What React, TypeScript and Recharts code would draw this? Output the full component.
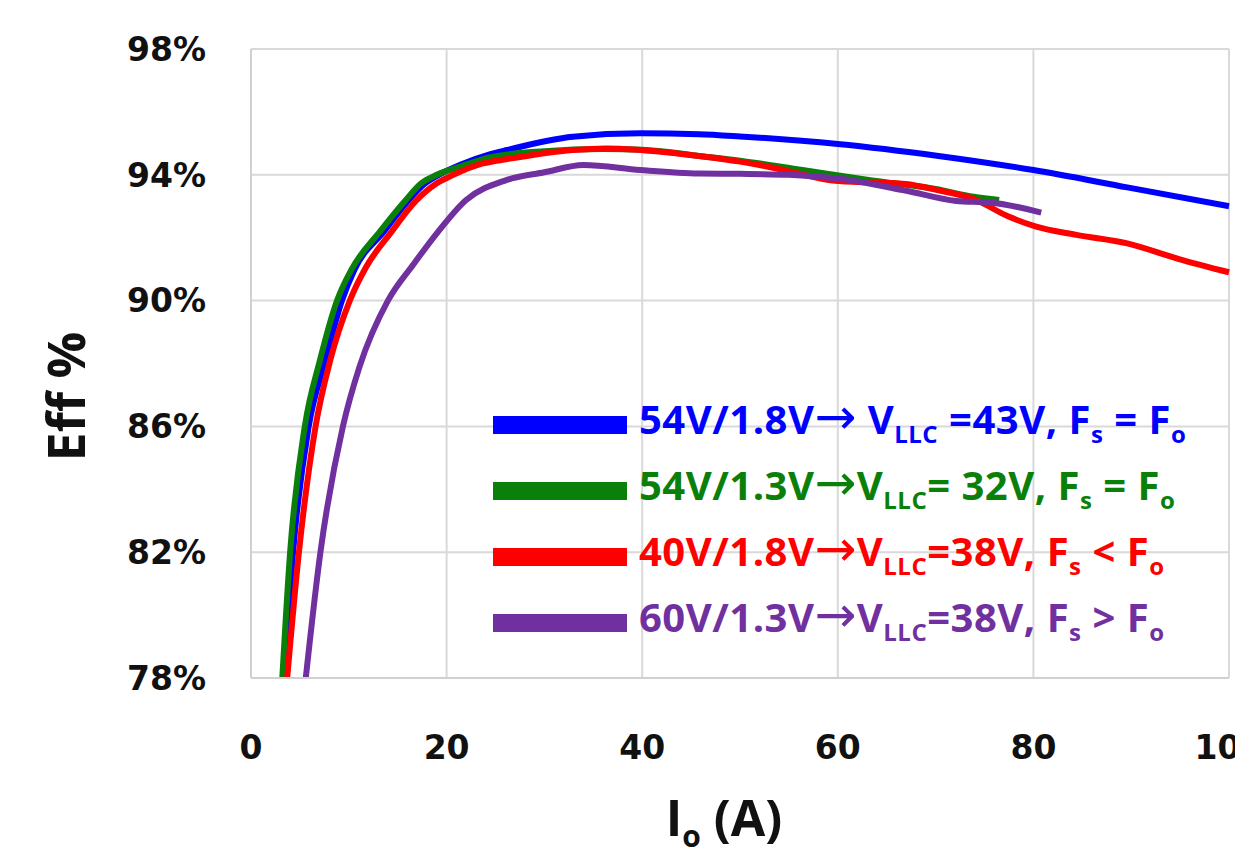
import React from 'react';
import { LineChart, Line, XAxis, YAxis, CartesianGrid, Legend, Label } from 'recharts';

// output current (A) and efficiency (%)
const blueCurrent = [3.4, 4.3, 5.9, 7.6, 9.3, 10.6, 13.6, 16.0, 17.7, 19.2, 21.4, 24.4, 26.2, 32.9, 39.8, 45.8, 50, 60, 70.3, 80, 89.6, 100];
const blueEff = [78, 82, 86, 88.1, 90, 91.0, 92.2, 93.15, 93.7, 94.0, 94.32, 94.65, 94.79, 95.21, 95.32, 95.29, 95.22, 94.98, 94.6, 94.15, 93.6, 93.0];

const greenCurrent = [3.2, 4.0, 5.5, 7.05, 8.8, 10.3, 13.2, 15.7, 17.4, 19.0, 21.4, 24.4, 30, 36, 40, 45.8, 50, 56.4, 63.5, 70, 73.9, 76.5];
const greenEff = [78, 82, 86, 88.1, 90, 91.0, 92.2, 93.15, 93.73, 94.0, 94.26, 94.55, 94.75, 94.82, 94.8, 94.6, 94.45, 94.15, 93.82, 93.55, 93.3, 93.2];

const redCurrent = [3.7, 4.9, 6.6, 8.1, 10.1, 11.7, 14.4, 16.8, 19.0, 20.7, 23.7, 26.2, 32.9, 36.3, 39.8, 45.8, 50, 53, 60.1, 66.9, 70.4, 73.9, 77.4, 80.2, 84.4, 89.6, 94.8, 100];
const redEff = [78, 82, 86, 88.1, 90, 91.03, 92.2, 93.15, 93.73, 94.0, 94.36, 94.5, 94.79, 94.84, 94.79, 94.6, 94.42, 94.25, 93.8, 93.71, 93.5, 93.23, 92.68, 92.36, 92.09, 91.82, 91.33, 90.9];

const purpleCurrent = [5.6, 7.1, 9.4, 11.1, 14.0, 16.6, 19.0, 22.0, 26.1, 30, 34, 39.8, 45.8, 50, 55, 60, 66.9, 72.1, 75.6, 80.8];
const purpleEff = [78, 82, 86, 87.9, 90, 91.15, 92.14, 93.2, 93.83, 94.08, 94.31, 94.15, 94.04, 94.03, 94.0, 93.88, 93.5, 93.17, 93.12, 92.8];

const xTicks = [0, 20, 40, 60, 80, 100];
const yTicks = [78, 82, 86, 90, 94, 98];

const seriesColors = ['#0000ff', '#0a800a', '#ff0000', '#7030a0'];
const legendSource = ['54V/1.8V', '54V/1.3V', '40V/1.8V', '60V/1.3V'];
const legendAfterArrow = [' V', 'V', 'V', 'V'];
const legendMiddle = [' =43V, F', '= 32V, F', '=38V, F', '=38V, F'];
const legendRelation = [' = F', ' = F', ' < F', ' > F'];

const toPoints = (xs: number[], ys: number[]) => xs.map((io, i) => ({ io, eff: ys[i] }));

const series = [
  toPoints(blueCurrent, blueEff),
  toPoints(greenCurrent, greenEff),
  toPoints(redCurrent, redEff),
  toPoints(purpleCurrent, purpleEff),
];

const tickStyle = { fontFamily: 'DejaVu Sans', fontWeight: 700, fontSize: 33, fill: '#111' };

const YTitle = (props: any) => {
  const { viewBox } = props;
  const x = viewBox.x + 85;
  const y = viewBox.y + viewBox.height / 2 + 33;
  return (
    <text
      x={x}
      y={y}
      transform={`rotate(-90, ${x}, ${y})`}
      textAnchor="middle"
      fontFamily="Open Sans"
      fontWeight={700}
      fontSize={52}
      fill="#111"
    >
      Eff %
    </text>
  );
};

const XTitle = (props: any) => {
  const { viewBox } = props;
  const x = viewBox.x + viewBox.width / 2 - 16;
  const y = viewBox.y + 158;
  return (
    <text x={x} y={y} textAnchor="middle" fontFamily="Open Sans" fontWeight={700} fontSize={50} fill="#111">
      <tspan>I</tspan>
      <tspan dy={11} fontSize={30}>o</tspan>
      <tspan dy={-11}> (A)</tspan>
    </text>
  );
};

const subStyle = { fontSize: '60%' };

const LegendBox = () => (
  <div style={{ fontFamily: 'Open Sans', fontWeight: 700, fontSize: 40, letterSpacing: 0.5 }}>
    {seriesColors.map((color, i) => (
      <div key={color} style={{ display: 'flex', alignItems: 'center', height: 66, color, whiteSpace: 'nowrap' }}>
        <div style={{ width: 134, height: 18, background: color, marginRight: 12 }} />
        <span style={{ lineHeight: '40px' }}>
          {legendSource[i]}
          <span style={{ fontFamily: 'DejaVu Sans', fontSize: '125%', fontWeight: 400 }}>→</span>
          {legendAfterArrow[i]}
          <sub style={subStyle}>LLC</sub>
          {legendMiddle[i]}
          <sub style={subStyle}>s</sub>
          {legendRelation[i]}
          <sub style={subStyle}>o</sub>
        </span>
      </div>
    ))}
  </div>
);

export default function App() {
  return (
    <div style={{ position: 'fixed', left: 0, top: 0, width: 1235, height: 853, overflow: 'hidden', background: '#fff' }}>
      <LineChart width={1300} height={853} margin={{ top: 49, right: 71, bottom: 0, left: 0 }}>
        <CartesianGrid stroke="#d9d9d9" strokeWidth={2} />
        <XAxis
          dataKey="io"
          type="number"
          domain={[0, 100]}
          ticks={xTicks}
          height={175}
          tickSize={0}
          tickMargin={58}
          tick={tickStyle}
          axisLine={{ stroke: '#d0d0d0', strokeWidth: 2 }}
          tickLine={false}
          allowDuplicatedCategory={false}
        >
          <Label content={<XTitle />} />
        </XAxis>
        <YAxis
          type="number"
          domain={[78, 98]}
          ticks={yTicks}
          width={251}
          tickSize={0}
          tickMargin={45}
          tick={tickStyle}
          tickFormatter={(v) => `${v}%`}
          axisLine={{ stroke: '#d0d0d0', strokeWidth: 2 }}
          tickLine={false}
          allowDataOverflow
        >
          <Label content={<YTitle />} />
        </YAxis>
        {series.map((points, i) => (
          <Line
            key={seriesColors[i]}
            data={points}
            dataKey="eff"
            type="monotone"
            stroke={seriesColors[i]}
            strokeWidth={6}
            dot={false}
            activeDot={false}
            isAnimationActive={false}
          />
        ))}
        <Legend
          layout="horizontal"
          verticalAlign="middle"
          align="center"
          content={() => <LegendBox />}
          wrapperStyle={{ left: 493, top: 392, width: 740 }}
        />
      </LineChart>
    </div>
  );
}
